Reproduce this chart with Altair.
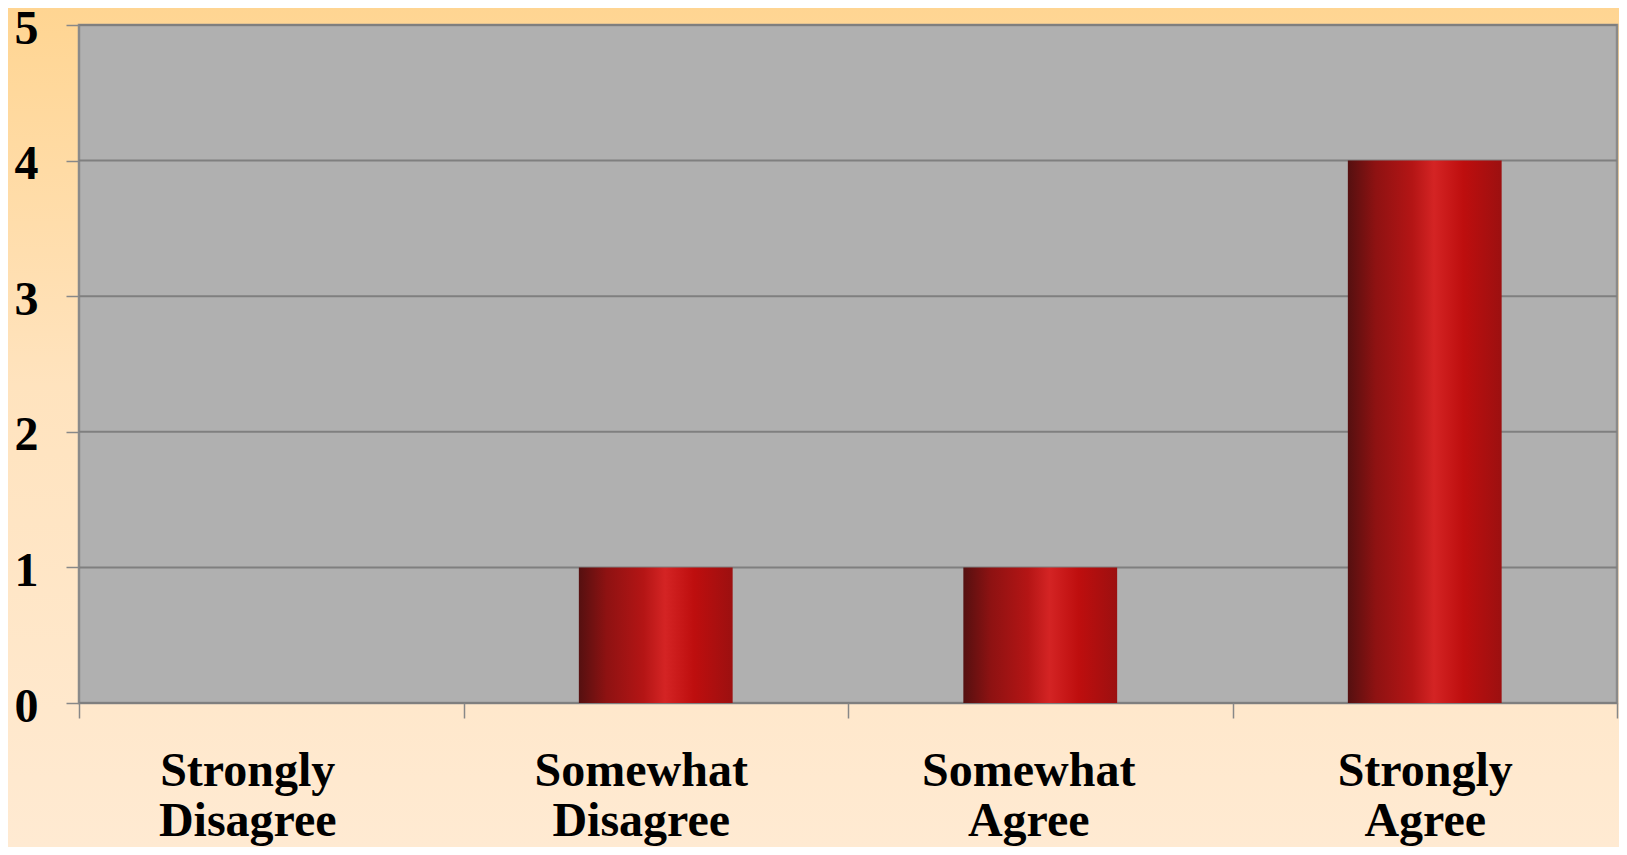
import altair as alt
import pandas as pd

categories = ["Strongly Disagree", "Somewhat Disagree", "Somewhat Agree", "Strongly Agree"]
values = [0, 1, 1, 4]
y_ticks = [0, 1, 2, 3, 4, 5]
label_shift = [-24, -15, -12, 0]

W, H = 1538, 678
PAD = {"left": 71, "top": 17, "right": 2, "bottom": 144}

bars_df = pd.DataFrame({"category": categories, "value": values})
grid_df = pd.DataFrame({"value": y_ticks})
one_df = pd.DataFrame({"k": [0]})

FONT = "Liberation Serif"

offset_cond = {
    "condition": [
        {"test": f"datum.value == '{c}'", "value": s}
        for c, s in zip(categories, label_shift)
    ],
    "value": 0,
}

x_enc = alt.X(
    "category:N",
    sort=categories,
    scale=alt.Scale(paddingInner=0, paddingOuter=0),
    axis=alt.Axis(
        title=None,
        labelAngle=0,
        labelFont=FONT,
        labelFontSize=48,
        labelFontWeight="bold",
        labelColor="#000000",
        labelExpr="split(datum.label, ' ')",
        labelLineHeight=50,
        labelPadding=29,
        labelBaseline="top",
        labelLimit=0,
        labelOffset=offset_cond,
        tickBand="extent",
        tickColor="#888888",
        tickWidth=1.5,
        tickSize=15,
        domain=False,
        grid=False,
        zindex=2,
    ),
)

y_scale = alt.Scale(domain=[0, 5], nice=False)
y_enc = alt.Y(
    "value:Q",
    scale=y_scale,
    axis=alt.Axis(
        title=None,
        values=y_ticks,
        format="d",
        labelFont=FONT,
        labelFontSize=48,
        labelFontWeight="bold",
        labelColor="#000000",
        labelPadding=28,
        labelOffset=4,
        tickColor="#888888",
        tickWidth=1.5,
        tickSize=13,
        domain=False,
        grid=False,
        zindex=2,
    ),
)

bg = alt.Chart(one_df).mark_rect(
    clip=False,
    fill=alt.Gradient(
        gradient="linear", x1=0.5, x2=0.5, y1=0, y2=1,
        stops=[
            alt.GradientStop(offset=0, color="#FFD592"),
            alt.GradientStop(offset=0.45, color="#FFE3BE"),
            alt.GradientStop(offset=1, color="#FFEAD2"),
        ],
    ),
).encode(
    x=alt.value(-PAD["left"]), x2=alt.value(W + PAD["right"]),
    y=alt.value(-PAD["top"]), y2=alt.value(H + PAD["bottom"]),
)

plot_bg = alt.Chart(one_df).mark_rect(
    fill="#B0B0B0", stroke="#8A8A8A", strokeWidth=2.5
).encode(
    x=alt.value(0), x2=alt.value(W), y=alt.value(0), y2=alt.value(H)
)

grid = alt.Chart(grid_df).mark_rule(color="#7F7F7F", strokeWidth=2).encode(
    y=alt.Y("value:Q", scale=y_scale, title=None),
    x=alt.value(0), x2=alt.value(W),
)

bar_grad = alt.Gradient(
    gradient="linear", x1=0, x2=1, y1=0, y2=0,
    stops=[
        alt.GradientStop(offset=0.0, color="#551010"),
        alt.GradientStop(offset=0.18, color="#8E1212"),
        alt.GradientStop(offset=0.42, color="#B41515"),
        alt.GradientStop(offset=0.56, color="#D42424"),
        alt.GradientStop(offset=0.75, color="#BE0E0E"),
        alt.GradientStop(offset=1.0, color="#9C1010"),
    ],
)

bars = alt.Chart(bars_df).mark_bar(
    width={"band": 0.4}, fill=bar_grad
).encode(x=x_enc, y=y_enc)

chart = alt.layer(bg, plot_bg, grid, bars).properties(
    width=W,
    height=H,
    padding=PAD,
    autosize=alt.AutoSizeParams(type="none"),
    background="#FFE3BE",
).configure_view(strokeWidth=0)

chart.save("out.html", embed_options={"renderer": "svg", "actions": False})
